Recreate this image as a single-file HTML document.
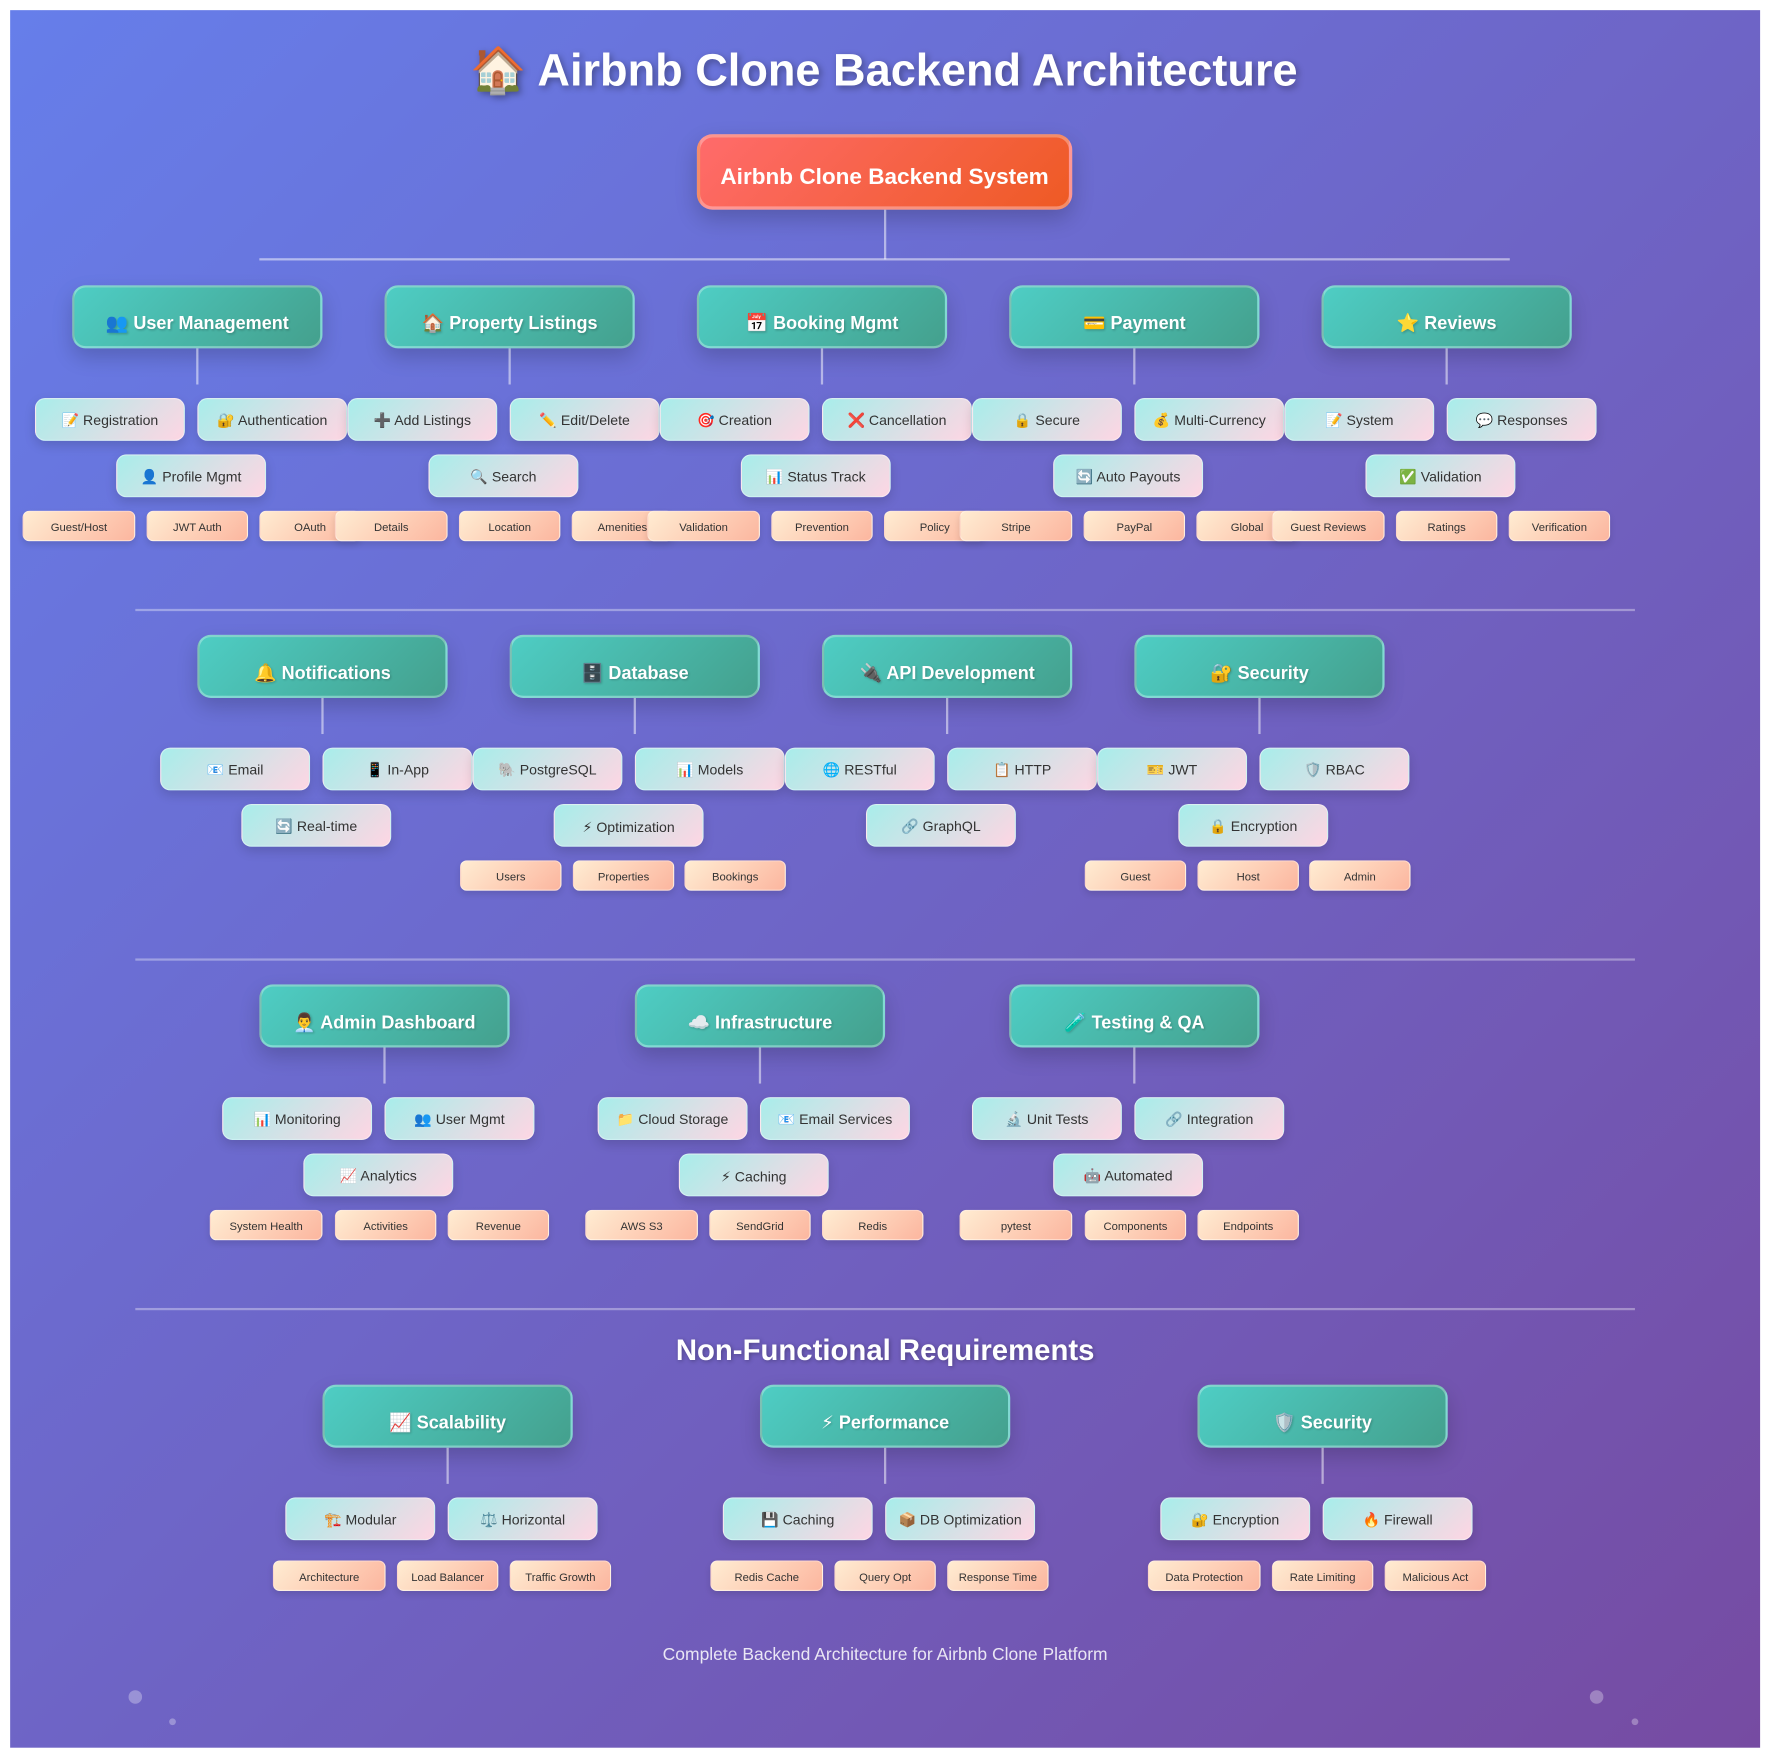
<!DOCTYPE html>
<html><head><meta charset="utf-8"><style>
*{margin:0;padding:0;box-sizing:border-box}
html,body{width:1768px;height:1748px;background:#fff;overflow:hidden}
#wrap{position:absolute;left:0;top:0;width:1568px;height:1550px;transform:scale(1.12755);transform-origin:0 0;font-family:"Liberation Sans","DejaVu Sans",sans-serif}
#bg{position:absolute;left:9px;top:9px;width:1552px;height:1541px;background:linear-gradient(135deg,#667eea 0%,#764ba2 100%)}
.a{position:absolute}
.title{left:0;width:1568px;top:39px;text-align:center;color:#fff;font-weight:bold;font-size:40px;text-shadow:2px 2px 6px rgba(0,0,0,.35)}
.root{left:618px;top:119px;width:333px;height:67px;border-radius:14px;background:linear-gradient(135deg,#ff6b6b,#ee5a24);border:3px solid rgba(255,255,255,.3);color:#fff;font-weight:bold;font-size:20px;display:flex;align-items:center;justify-content:center;padding-top:10px;box-shadow:0 8px 20px rgba(0,0,0,.2)}
.c{width:222px;height:56px;border-radius:12px;background:linear-gradient(135deg,#4ecdc4,#44a08d);border:2px solid rgba(255,255,255,.3);color:#fff;font-weight:bold;font-size:16px;display:flex;align-items:center;justify-content:center;padding-top:12px;box-shadow:0 8px 18px rgba(0,0,0,.18);text-shadow:1px 1px 2px rgba(0,0,0,.2)}
.n{width:133px;height:38px;border-radius:9px;background:linear-gradient(135deg,#a8edea,#fed6e3);color:#333;font-size:12.5px;display:flex;align-items:center;justify-content:center;padding-top:2px;box-shadow:0 4px 10px rgba(0,0,0,.15);border:1px solid rgba(255,255,255,.4)}
.t{width:90px;height:27px;border-radius:6px;background:linear-gradient(135deg,#ffecd2,#fcb69f);color:#333;font-size:10px;display:flex;align-items:center;justify-content:center;padding-top:3px;box-shadow:0 3px 6px rgba(0,0,0,.12);border:1px solid rgba(255,255,255,.4)}
.w{width:100px}
.v{width:2px;height:32px;background:rgba(255,255,255,.5)}
.h{height:2px;background:rgba(255,255,255,.35)}
.dot{border-radius:50%;background:rgba(255,255,255,.3)}
</style></head><body><div id="wrap">
<div id="bg"></div>
<div class="a title">🏠 Airbnb Clone Backend Architecture</div>
<div class="a root">Airbnb Clone Backend System</div>
<div class="a" style="left:784px;top:186px;width:2px;height:44px;background:rgba(255,255,255,.5)"></div>
<div class="a h" style="left:230px;top:229px;width:1109px;background:rgba(255,255,255,.5)"></div>

<div class="a c" style="left:64px;top:253px">👥 User Management</div>
<div class="a v" style="left:174px;top:309px"></div>
<div class="a n" style="left:31px;top:353px">📝 Registration</div>
<div class="a n" style="left:175px;top:353px">🔐 Authentication</div>
<div class="a n" style="left:103px;top:403px">👤 Profile Mgmt</div>
<div class="a t w" style="left:20px;top:453px">Guest/Host</div>
<div class="a t" style="left:130px;top:453px">JWT Auth</div>
<div class="a t" style="left:230px;top:453px">OAuth</div>

<div class="a c" style="left:341px;top:253px">🏠 Property Listings</div>
<div class="a v" style="left:451px;top:309px"></div>
<div class="a n" style="left:308px;top:353px">➕ Add Listings</div>
<div class="a n" style="left:452px;top:353px">✏️ Edit/Delete</div>
<div class="a n" style="left:380px;top:403px">🔍 Search</div>
<div class="a t w" style="left:297px;top:453px">Details</div>
<div class="a t" style="left:407px;top:453px">Location</div>
<div class="a t" style="left:507px;top:453px">Amenities</div>

<div class="a c" style="left:618px;top:253px">📅 Booking Mgmt</div>
<div class="a v" style="left:728px;top:309px"></div>
<div class="a n" style="left:585px;top:353px">🎯 Creation</div>
<div class="a n" style="left:729px;top:353px">❌ Cancellation</div>
<div class="a n" style="left:657px;top:403px">📊 Status Track</div>
<div class="a t w" style="left:574px;top:453px">Validation</div>
<div class="a t" style="left:684px;top:453px">Prevention</div>
<div class="a t" style="left:784px;top:453px">Policy</div>

<div class="a c" style="left:895px;top:253px">💳 Payment</div>
<div class="a v" style="left:1005px;top:309px"></div>
<div class="a n" style="left:862px;top:353px">🔒 Secure</div>
<div class="a n" style="left:1006px;top:353px">💰 Multi-Currency</div>
<div class="a n" style="left:934px;top:403px">🔄 Auto Payouts</div>
<div class="a t w" style="left:851px;top:453px">Stripe</div>
<div class="a t" style="left:961px;top:453px">PayPal</div>
<div class="a t" style="left:1061px;top:453px">Global</div>

<div class="a c" style="left:1172px;top:253px">⭐ Reviews</div>
<div class="a v" style="left:1282px;top:309px"></div>
<div class="a n" style="left:1139px;top:353px">📝 System</div>
<div class="a n" style="left:1283px;top:353px">💬 Responses</div>
<div class="a n" style="left:1211px;top:403px">✅ Validation</div>
<div class="a t w" style="left:1128px;top:453px">Guest Reviews</div>
<div class="a t" style="left:1238px;top:453px">Ratings</div>
<div class="a t" style="left:1338px;top:453px">Verification</div>

<div class="a h" style="left:120px;top:540px;width:1330px"></div>

<div class="a c" style="left:175px;top:563px">🔔 Notifications</div>
<div class="a v" style="left:285px;top:619px"></div>
<div class="a n" style="left:142px;top:663px">📧 Email</div>
<div class="a n" style="left:286px;top:663px">📱 In-App</div>
<div class="a n" style="left:214px;top:713px">🔄 Real-time</div>

<div class="a c" style="left:452px;top:563px">🗄️ Database</div>
<div class="a v" style="left:562px;top:619px"></div>
<div class="a n" style="left:419px;top:663px">🐘 PostgreSQL</div>
<div class="a n" style="left:563px;top:663px">📊 Models</div>
<div class="a n" style="left:491px;top:713px">⚡ Optimization</div>
<div class="a t" style="left:408px;top:763px">Users</div>
<div class="a t" style="left:508px;top:763px">Properties</div>
<div class="a t" style="left:607px;top:763px">Bookings</div>

<div class="a c" style="left:729px;top:563px">🔌 API Development</div>
<div class="a v" style="left:839px;top:619px"></div>
<div class="a n" style="left:696px;top:663px">🌐 RESTful</div>
<div class="a n" style="left:840px;top:663px">📋 HTTP</div>
<div class="a n" style="left:768px;top:713px">🔗 GraphQL</div>

<div class="a c" style="left:1006px;top:563px">🔐 Security</div>
<div class="a v" style="left:1116px;top:619px"></div>
<div class="a n" style="left:973px;top:663px">🎫 JWT</div>
<div class="a n" style="left:1117px;top:663px">🛡️ RBAC</div>
<div class="a n" style="left:1045px;top:713px">🔒 Encryption</div>
<div class="a t" style="left:962px;top:763px">Guest</div>
<div class="a t" style="left:1062px;top:763px">Host</div>
<div class="a t" style="left:1161px;top:763px">Admin</div>

<div class="a h" style="left:120px;top:850px;width:1330px"></div>

<div class="a c" style="left:230px;top:873px">👨‍💼 Admin Dashboard</div>
<div class="a v" style="left:340px;top:929px"></div>
<div class="a n" style="left:197px;top:973px">📊 Monitoring</div>
<div class="a n" style="left:341px;top:973px">👥 User Mgmt</div>
<div class="a n" style="left:269px;top:1023px">📈 Analytics</div>
<div class="a t w" style="left:186px;top:1073px">System Health</div>
<div class="a t" style="left:297px;top:1073px">Activities</div>
<div class="a t" style="left:397px;top:1073px">Revenue</div>

<div class="a c" style="left:563px;top:873px">☁️ Infrastructure</div>
<div class="a v" style="left:673px;top:929px"></div>
<div class="a n" style="left:530px;top:973px">📁 Cloud Storage</div>
<div class="a n" style="left:674px;top:973px">📧 Email Services</div>
<div class="a n" style="left:602px;top:1023px">⚡ Caching</div>
<div class="a t w" style="left:519px;top:1073px">AWS S3</div>
<div class="a t" style="left:629px;top:1073px">SendGrid</div>
<div class="a t" style="left:729px;top:1073px">Redis</div>

<div class="a c" style="left:895px;top:873px">🧪 Testing &amp; QA</div>
<div class="a v" style="left:1005px;top:929px"></div>
<div class="a n" style="left:862px;top:973px">🔬 Unit Tests</div>
<div class="a n" style="left:1006px;top:973px">🔗 Integration</div>
<div class="a n" style="left:934px;top:1023px">🤖 Automated</div>
<div class="a t w" style="left:851px;top:1073px">pytest</div>
<div class="a t" style="left:962px;top:1073px">Components</div>
<div class="a t" style="left:1062px;top:1073px">Endpoints</div>

<div class="a h" style="left:120px;top:1160px;width:1330px"></div>

<div class="a" style="left:0;width:1570px;top:1182px;text-align:center;color:#fff;font-weight:bold;font-size:26px;text-shadow:1px 1px 4px rgba(0,0,0,.3)">Non-Functional Requirements</div>

<div class="a c" style="left:286px;top:1228px">📈 Scalability</div>
<div class="a v" style="left:396px;top:1284px"></div>
<div class="a n" style="left:253px;top:1328px">🏗️ Modular</div>
<div class="a n" style="left:397px;top:1328px">⚖️ Horizontal</div>
<div class="a t w" style="left:242px;top:1384px">Architecture</div>
<div class="a t" style="left:352px;top:1384px">Load Balancer</div>
<div class="a t" style="left:452px;top:1384px">Traffic Growth</div>

<div class="a c" style="left:674px;top:1228px">⚡ Performance</div>
<div class="a v" style="left:784px;top:1284px"></div>
<div class="a n" style="left:641px;top:1328px">💾 Caching</div>
<div class="a n" style="left:785px;top:1328px">📦 DB Optimization</div>
<div class="a t w" style="left:630px;top:1384px">Redis Cache</div>
<div class="a t" style="left:740px;top:1384px">Query Opt</div>
<div class="a t" style="left:840px;top:1384px">Response Time</div>

<div class="a c" style="left:1062px;top:1228px">🛡️ Security</div>
<div class="a v" style="left:1172px;top:1284px"></div>
<div class="a n" style="left:1029px;top:1328px">🔐 Encryption</div>
<div class="a n" style="left:1173px;top:1328px">🔥 Firewall</div>
<div class="a t w" style="left:1018px;top:1384px">Data Protection</div>
<div class="a t" style="left:1128px;top:1384px">Rate Limiting</div>
<div class="a t" style="left:1228px;top:1384px">Malicious Act</div>

<div class="a" style="left:0;width:1570px;top:1459px;text-align:center;color:rgba(255,255,255,.85);font-size:15.5px">Complete Backend Architecture for Airbnb Clone Platform</div>

<div class="a dot" style="left:114px;top:1499px;width:12px;height:12px"></div>
<div class="a dot" style="left:150px;top:1524px;width:6px;height:6px"></div>
<div class="a dot" style="left:1410px;top:1499px;width:12px;height:12px"></div>
<div class="a dot" style="left:1447px;top:1524px;width:6px;height:6px"></div>
</div></body></html>
